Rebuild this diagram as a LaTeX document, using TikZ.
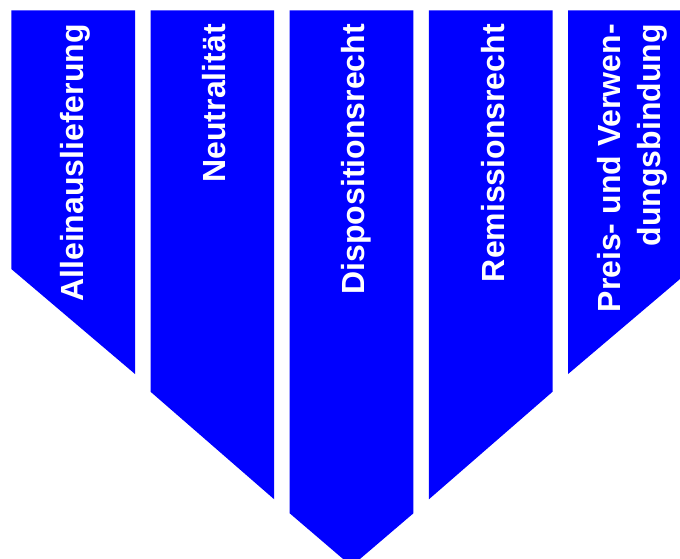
\documentclass[tikz,border=0pt]{standalone}
\usepackage{fontspec}
\setmainfont{Liberation Sans}
\usepackage{tikz}
\tikzset{colbox/.style={fill=blue, draw=none},
    collabel/.style={text=white, font=\bfseries\fontsize{32}{40}\selectfont, rotate=90, inner sep=0pt, anchor=base east}}

\begin{document}
\begin{tikzpicture}[x=1pt,y=1pt]
                 \useasboundingbox (0,0) rectangle (680,558);
                 \clip (0,0) rectangle (680,558);
                 \fill[colbox] (11.3,547.5)--(135,547.5)--(135,184)--(11.3,289)--cycle;
                 \node[collabel] (allein) at (83.5,534) {Alleinauslieferung};

                 \fill[colbox] (150.5,547.5)--(274.2,547.5)--(274.2,58.7)--(150.5,166.3)--cycle;
                 \node[collabel] (neutral) at (225,534) {Neutralität};

                 \fill[colbox] (289.7,547.5)--(413.4,547.5)--(413.4,44.7)--(351.5,-8.2)--(289.7,44.7)--cycle;
                 \node[collabel] (dispo) at (364,534) {Dispositionsrecht};

                 \fill[colbox] (428.9,547.5)--(552.6,547.5)--(552.6,166.3)--(428.9,58.7)--cycle;
                 \node[collabel] (remi) at (504.3,534) {Remissionsrecht};

                 \fill[colbox] (568.1,547.5)--(691.8,547.5)--(691.8,289)--(568.1,184)--cycle;
                 \node[collabel, anchor=north east, align=right] (preis) at (596.7,534) {Preis- und Verwen-\\dungsbindung};
\end{tikzpicture}
\end{document}
